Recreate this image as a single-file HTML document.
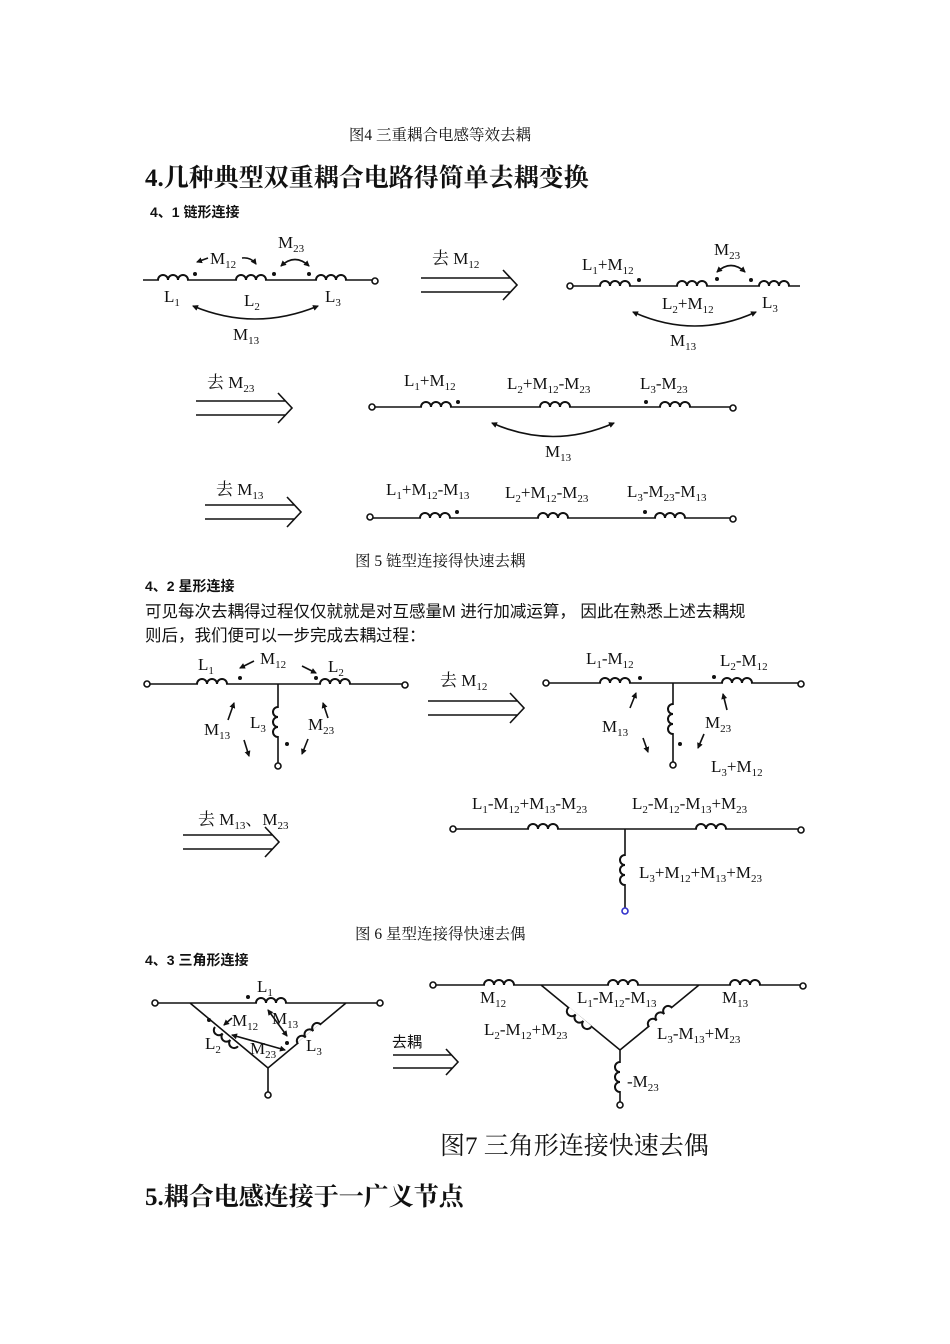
<!DOCTYPE html>
<html><head><meta charset="utf-8"><style>
html,body{margin:0;padding:0;background:#fff;width:950px;height:1344px;overflow:hidden}
svg{display:block}
.t{font-family:"Liberation Serif","Noto Serif CJK SC",serif;font-size:17px;fill:#111}
.s{font-size:11px}
.cn{font-family:"Liberation Sans","Noto Sans CJK SC",sans-serif;fill:#111}
.sf{font-family:"Liberation Serif","Noto Serif CJK SC",serif;fill:#111}
.w{stroke:#111;stroke-width:1.6;fill:none}
</style></head><body>
<svg width="950" height="1344" viewBox="0 0 950 1344">
<defs>
<g id="c"><rect x="1" y="-1.5" width="28" height="3" fill="#fff"/><path d="M0 0 a5 5 0 0 1 10 0 a5 5 0 0 1 10 0 a5 5 0 0 1 10 0" stroke="#111" stroke-width="2" fill="none"/></g>
<g id="da"><path d="M0 0 H90 M0 14 H90 M82 -8 L96 7 L82 22" stroke="#111" stroke-width="1.6" fill="none"/></g>
<marker id="ah" markerWidth="6" markerHeight="6" refX="5" refY="3" orient="auto-start-reverse" markerUnits="userSpaceOnUse"><path d="M0 0 L6 3 L0 6z" fill="#111"/></marker>
</defs>

<text x="440" y="140" class="sf" font-size="15.5" text-anchor="middle">图4 三重耦合电感等效去耦</text>
<text x="145" y="186" class="sf" font-size="25" font-weight="bold">4.几种典型双重耦合电路得简单去耦变换</text>
<text x="150" y="217" class="cn" font-size="14" font-weight="bold">4、1  链形连接</text>

<!-- chain 1 -->
<path class="w" d="M143 280 H372"/><circle cx="375" cy="281" r="3" class="w" fill="#fff"/>
<use href="#c" x="158" y="280"/><use href="#c" x="236" y="280"/><use href="#c" x="316" y="280"/>
<circle cx="195" cy="274" r="2" fill="#111"/><circle cx="274" cy="274" r="2" fill="#111"/><circle cx="309" cy="274" r="2" fill="#111"/>
<text class="t" x="210" y="264">M<tspan class="s" dy="4">12</tspan></text>
<path class="w" d="M208 258 L197 262" marker-end="url(#ah)"/><path class="w" d="M242 258 Q251 257 256 264" marker-end="url(#ah)"/>
<text class="t" x="278" y="248">M<tspan class="s" dy="4">23</tspan></text>
<path class="w" d="M281 266 Q295 253 309 266" marker-start="url(#ah)" marker-end="url(#ah)"/>
<text class="t" x="164" y="302">L<tspan class="s" dy="4">1</tspan></text>
<text class="t" x="244" y="306">L<tspan class="s" dy="4">2</tspan></text>
<text class="t" x="325" y="302">L<tspan class="s" dy="4">3</tspan></text>
<path class="w" d="M193 306 Q255 332 318 306" marker-start="url(#ah)" marker-end="url(#ah)"/>
<text class="t" x="233" y="340">M<tspan class="s" dy="4">13</tspan></text>

<text class="t" x="432" y="264">去 M<tspan class="s" dy="4">12</tspan></text>
<use href="#da" x="421" y="278"/>

<!-- chain 2 -->
<circle cx="570" cy="286" r="3" class="w" fill="#fff"/><path class="w" d="M573 286 H800"/>
<use href="#c" x="600" y="286"/><use href="#c" x="677" y="286"/><use href="#c" x="759" y="286"/>
<circle cx="639" cy="280" r="2" fill="#111"/><circle cx="717" cy="279" r="2" fill="#111"/><circle cx="751" cy="280" r="2" fill="#111"/>
<text class="t" x="582" y="270">L<tspan class="s" dy="4">1</tspan><tspan dy="-4">+M</tspan><tspan class="s" dy="4">12</tspan></text>
<text class="t" x="714" y="255">M<tspan class="s" dy="4">23</tspan></text>
<path class="w" d="M717 272 Q731 259 745 272" marker-start="url(#ah)" marker-end="url(#ah)"/>
<text class="t" x="662" y="309">L<tspan class="s" dy="4">2</tspan><tspan dy="-4">+M</tspan><tspan class="s" dy="4">12</tspan></text>
<text class="t" x="762" y="308">L<tspan class="s" dy="4">3</tspan></text>
<path class="w" d="M633 312 Q695 340 756 312" marker-start="url(#ah)" marker-end="url(#ah)"/>
<text class="t" x="670" y="346">M<tspan class="s" dy="4">13</tspan></text>

<!-- row 2 -->
<text class="t" x="207" y="388">去 M<tspan class="s" dy="4">23</tspan></text>
<use href="#da" x="196" y="401"/>
<circle cx="372" cy="407" r="3" class="w" fill="#fff"/><circle cx="733" cy="408" r="3" class="w" fill="#fff"/>
<path class="w" d="M375 407 H730"/>
<use href="#c" x="421" y="407"/><use href="#c" x="540" y="407"/><use href="#c" x="660" y="407"/>
<circle cx="458" cy="402" r="2" fill="#111"/><circle cx="646" cy="402" r="2" fill="#111"/>
<text class="t" x="404" y="386">L<tspan class="s" dy="4">1</tspan><tspan dy="-4">+M</tspan><tspan class="s" dy="4">12</tspan></text>
<text class="t" x="507" y="389">L<tspan class="s" dy="4">2</tspan><tspan dy="-4">+M</tspan><tspan class="s" dy="4">12</tspan><tspan dy="-4">-M</tspan><tspan class="s" dy="4">23</tspan></text>
<text class="t" x="640" y="389">L<tspan class="s" dy="4">3</tspan><tspan dy="-4">-M</tspan><tspan class="s" dy="4">23</tspan></text>
<path class="w" d="M492 423 Q553 450 614 423" marker-start="url(#ah)" marker-end="url(#ah)"/>
<text class="t" x="545" y="457">M<tspan class="s" dy="4">13</tspan></text>

<!-- row 3 -->
<text class="t" x="216" y="495">去 M<tspan class="s" dy="4">13</tspan></text>
<use href="#da" x="205" y="505"/>
<circle cx="370" cy="517" r="3" class="w" fill="#fff"/><circle cx="733" cy="519" r="3" class="w" fill="#fff"/>
<path class="w" d="M373 518 H730"/>
<use href="#c" x="420" y="518"/><use href="#c" x="538" y="518"/><use href="#c" x="655" y="518"/>
<circle cx="457" cy="512" r="2" fill="#111"/><circle cx="645" cy="512" r="2" fill="#111"/>
<text class="t" x="386" y="495">L<tspan class="s" dy="4">1</tspan><tspan dy="-4">+M</tspan><tspan class="s" dy="4">12</tspan><tspan dy="-4">-M</tspan><tspan class="s" dy="4">13</tspan></text>
<text class="t" x="505" y="498">L<tspan class="s" dy="4">2</tspan><tspan dy="-4">+M</tspan><tspan class="s" dy="4">12</tspan><tspan dy="-4">-M</tspan><tspan class="s" dy="4">23</tspan></text>
<text class="t" x="627" y="497">L<tspan class="s" dy="4">3</tspan><tspan dy="-4">-M</tspan><tspan class="s" dy="4">23</tspan><tspan dy="-4">-M</tspan><tspan class="s" dy="4">13</tspan></text>

<text x="355" y="566" class="sf" font-size="15.5">图 5  链型连接得快速去耦</text>
<text x="145" y="591" class="cn" font-size="14" font-weight="bold">4、2  星形连接</text>
<text x="145" y="617" class="cn" font-size="16.5">可见每次去耦得过程仅仅就就是对互感量M 进行加减运算，  因此在熟悉上述去耦规</text>
<text x="145" y="641" class="cn" font-size="16.5">则后，我们便可以一步完成去耦过程：</text>

<!-- star 1 -->
<circle cx="147" cy="684" r="3" class="w" fill="#fff"/><circle cx="405" cy="685" r="3" class="w" fill="#fff"/>
<path class="w" d="M150 684 H402 M278 684 V763"/><circle cx="278" cy="766" r="3" class="w" fill="#fff"/>
<use href="#c" x="197" y="684"/><use href="#c" x="320" y="684"/>
<use href="#c" transform="translate(278,707) rotate(90) scale(1,-1)"/>
<circle cx="240" cy="678" r="2" fill="#111"/><circle cx="316" cy="678" r="2" fill="#111"/><circle cx="287" cy="744" r="2" fill="#111"/>
<text class="t" x="198" y="670">L<tspan class="s" dy="4">1</tspan></text>
<text class="t" x="260" y="664">M<tspan class="s" dy="4">12</tspan></text>
<text class="t" x="328" y="672">L<tspan class="s" dy="4">2</tspan></text>
<path class="w" d="M254 661 L240 668" marker-end="url(#ah)"/><path class="w" d="M302 666 L316 673" marker-end="url(#ah)"/>
<path class="w" d="M228 720 L234 703" marker-end="url(#ah)"/><path class="w" d="M328 718 L323 703" marker-end="url(#ah)"/>
<text class="t" x="204" y="735">M<tspan class="s" dy="4">13</tspan></text>
<text class="t" x="250" y="728">L<tspan class="s" dy="4">3</tspan></text>
<text class="t" x="308" y="730">M<tspan class="s" dy="4">23</tspan></text>
<path class="w" d="M244 740 L249 756" marker-end="url(#ah)"/><path class="w" d="M308 739 L302 754" marker-end="url(#ah)"/>

<text class="t" x="440" y="686">去 M<tspan class="s" dy="4">12</tspan></text>
<use href="#da" x="428" y="701"/>

<!-- star 2 -->
<circle cx="546" cy="683" r="3" class="w" fill="#fff"/><circle cx="801" cy="684" r="3" class="w" fill="#fff"/>
<path class="w" d="M549 683 H798 M673 683 V762"/><circle cx="673" cy="765" r="3" class="w" fill="#fff"/>
<use href="#c" x="600" y="683"/><use href="#c" x="722" y="683"/>
<use href="#c" transform="translate(673,704) rotate(90) scale(1,-1)"/>
<circle cx="640" cy="678" r="2" fill="#111"/><circle cx="714" cy="677" r="2" fill="#111"/><circle cx="680" cy="744" r="2" fill="#111"/>
<text class="t" x="586" y="664">L<tspan class="s" dy="4">1</tspan><tspan dy="-4">-M</tspan><tspan class="s" dy="4">12</tspan></text>
<text class="t" x="720" y="666">L<tspan class="s" dy="4">2</tspan><tspan dy="-4">-M</tspan><tspan class="s" dy="4">12</tspan></text>
<path class="w" d="M630 708 L636 693" marker-end="url(#ah)"/><path class="w" d="M727 710 L723 694" marker-end="url(#ah)"/>
<text class="t" x="602" y="732">M<tspan class="s" dy="4">13</tspan></text>
<text class="t" x="705" y="728">M<tspan class="s" dy="4">23</tspan></text>
<path class="w" d="M643 738 L648 752" marker-end="url(#ah)"/><path class="w" d="M704 734 L698 748" marker-end="url(#ah)"/>
<text class="t" x="711" y="772">L<tspan class="s" dy="4">3</tspan><tspan dy="-4">+M</tspan><tspan class="s" dy="4">12</tspan></text>

<!-- star 3 -->
<text class="t" x="198" y="825">去 M<tspan class="s" dy="4">13</tspan><tspan dy="-4">、M</tspan><tspan class="s" dy="4">23</tspan></text>
<use href="#da" x="183" y="835"/>
<circle cx="453" cy="829" r="3" class="w" fill="#fff"/><circle cx="801" cy="830" r="3" class="w" fill="#fff"/>
<path class="w" d="M456 829 H798 M625 829 V908"/><circle cx="625" cy="911" r="3" stroke="#33c" stroke-width="1.6" fill="#fff"/>
<use href="#c" x="528" y="829"/><use href="#c" x="696" y="829"/>
<use href="#c" transform="translate(625,855) rotate(90) scale(1,-1)"/>
<text class="t" x="472" y="809">L<tspan class="s" dy="4">1</tspan><tspan dy="-4">-M</tspan><tspan class="s" dy="4">12</tspan><tspan dy="-4">+M</tspan><tspan class="s" dy="4">13</tspan><tspan dy="-4">-M</tspan><tspan class="s" dy="4">23</tspan></text>
<text class="t" x="632" y="809">L<tspan class="s" dy="4">2</tspan><tspan dy="-4">-M</tspan><tspan class="s" dy="4">12</tspan><tspan dy="-4">-M</tspan><tspan class="s" dy="4">13</tspan><tspan dy="-4">+M</tspan><tspan class="s" dy="4">23</tspan></text>
<text class="t" x="639" y="878">L<tspan class="s" dy="4">3</tspan><tspan dy="-4">+M</tspan><tspan class="s" dy="4">12</tspan><tspan dy="-4">+M</tspan><tspan class="s" dy="4">13</tspan><tspan dy="-4">+M</tspan><tspan class="s" dy="4">23</tspan></text>

<text x="355" y="939" class="sf" font-size="15.5">图 6  星型连接得快速去偶</text>
<text x="145" y="965" class="cn" font-size="14" font-weight="bold">4、3    三角形连接</text>

<!-- triangle left -->
<circle cx="155" cy="1003" r="3" class="w" fill="#fff"/><circle cx="380" cy="1003" r="3" class="w" fill="#fff"/>
<path class="w" d="M158 1003 H377 M190 1003 L268 1068 L346 1003 M268 1068 V1092"/>
<circle cx="268" cy="1095" r="3" class="w" fill="#fff"/>
<use href="#c" x="256" y="1003"/>
<use href="#c" transform="translate(215,1027) rotate(40) scale(1,-1)"/>
<use href="#c" transform="translate(298,1044) rotate(-40)"/>
<circle cx="248" cy="997" r="2" fill="#111"/><circle cx="209" cy="1020" r="2" fill="#111"/><circle cx="287" cy="1043" r="2" fill="#111"/>
<text class="t" x="257" y="992">L<tspan class="s" dy="4">1</tspan></text>
<text class="t" x="232" y="1026">M<tspan class="s" dy="4">12</tspan></text>
<text class="t" x="272" y="1024">M<tspan class="s" dy="4">13</tspan></text>
<text class="t" x="205" y="1049">L<tspan class="s" dy="4">2</tspan></text>
<text class="t" x="250" y="1054">M<tspan class="s" dy="4">23</tspan></text>
<text class="t" x="306" y="1051">L<tspan class="s" dy="4">3</tspan></text>
<path class="w" d="M232 1018 L224 1025" marker-end="url(#ah)"/>
<path class="w" d="M268 1010 L287 1036" marker-start="url(#ah)" marker-end="url(#ah)"/>
<path class="w" d="M232 1035 L285 1050" marker-start="url(#ah)" marker-end="url(#ah)"/>

<text x="392" y="1047" class="cn" font-size="15">去耦</text>
<path d="M393 1055 H452 M393 1068 H452 M446 1049 L458 1062 L446 1075" stroke="#111" stroke-width="1.6" fill="none"/>

<!-- triangle right -->
<circle cx="433" cy="985" r="3" class="w" fill="#fff"/><circle cx="803" cy="986" r="3" class="w" fill="#fff"/>
<path class="w" d="M436 985 H800 M541 985 L620 1050 L699 985 M620 1050 V1102"/>
<circle cx="620" cy="1105" r="3" class="w" fill="#fff"/>
<use href="#c" x="484" y="985"/><use href="#c" x="608" y="985"/><use href="#c" x="730" y="985"/>
<use href="#c" transform="translate(568,1008) rotate(40) scale(1,-1)"/>
<use href="#c" transform="translate(649,1027) rotate(-40)"/>
<use href="#c" transform="translate(620,1062) rotate(90) scale(1,-1)"/>
<text class="t" x="480" y="1003">M<tspan class="s" dy="4">12</tspan></text>
<text class="t" x="577" y="1003">L<tspan class="s" dy="4">1</tspan><tspan dy="-4">-M</tspan><tspan class="s" dy="4">12</tspan><tspan dy="-4">-M</tspan><tspan class="s" dy="4">13</tspan></text>
<text class="t" x="722" y="1003">M<tspan class="s" dy="4">13</tspan></text>
<text class="t" x="484" y="1035">L<tspan class="s" dy="4">2</tspan><tspan dy="-4">-M</tspan><tspan class="s" dy="4">12</tspan><tspan dy="-4">+M</tspan><tspan class="s" dy="4">23</tspan></text>
<text class="t" x="657" y="1039">L<tspan class="s" dy="4">3</tspan><tspan dy="-4">-M</tspan><tspan class="s" dy="4">13</tspan><tspan dy="-4">+M</tspan><tspan class="s" dy="4">23</tspan></text>
<text class="t" x="627" y="1087">-M<tspan class="s" dy="4">23</tspan></text>

<text x="440" y="1154" class="sf" font-size="25">图7  三角形连接快速去偶</text>
<text x="145" y="1205" class="sf" font-size="25" font-weight="bold">5.耦合电感连接于一广义节点</text>
</svg>
</body></html>
